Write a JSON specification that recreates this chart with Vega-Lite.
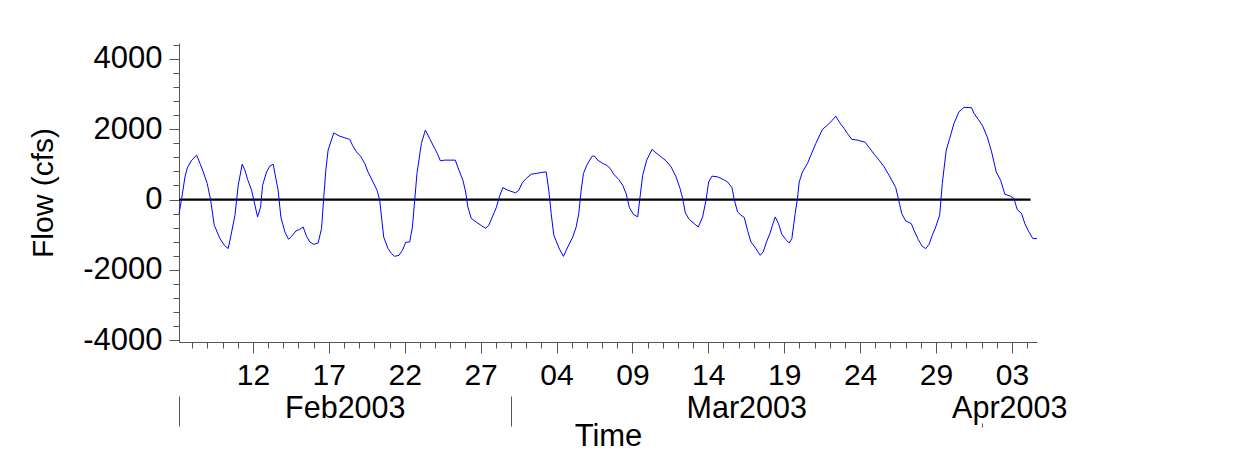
{
"$schema": "https://vega.github.io/schema/vega-lite/v6.json",
"width": 858, "height": 299,
"autosize": {"type": "none"},
"padding": {"left": 179, "top": 43, "right": 211, "bottom": 119},
"background": "white",
"config": {
  "view": {"stroke": null},
  "axis": {"grid": false, "labelFont": "Liberation Sans", "titleFont": "Liberation Sans", "labelFontSize": 30, "titleFontSize": 31, "titleFontWeight": "normal", "labelColor": "black", "titleColor": "black", "domainColor": "#555", "tickColor": "#555", "labelFlush": false, "labelOverlap": false}
},
"datasets": {
  "flow": [
{"t":"2003-02-07T03:10","v":-400},{"t":"2003-02-07T07:24","v":30},{"t":"2003-02-07T12:36","v":640},{"t":"2003-02-07T16:18","v":900},{"t":"2003-02-07T23:12","v":1120},
{"t":"2003-02-08T07:06","v":1260},{"t":"2003-02-08T12:18","v":1025},{"t":"2003-02-08T17:30","v":785},{"t":"2003-02-08T23:48","v":455},
{"t":"2003-02-09T05:12","v":-20},{"t":"2003-02-09T10:54","v":-730},{"t":"2003-02-09T19:54","v":-1110},
{"t":"2003-02-10T02:42","v":-1300},{"t":"2003-02-10T09:00","v":-1395},{"t":"2003-02-10T14:24","v":-920},{"t":"2003-02-10T19:36","v":-450},
{"t":"2003-02-11T00:48","v":405},{"t":"2003-02-11T07:06","v":1005},{"t":"2003-02-11T11:24","v":835},{"t":"2003-02-11T15:36","v":570},{"t":"2003-02-11T21:54","v":265},
{"t":"2003-02-12T03:12","v":-160},{"t":"2003-02-12T07:24","v":-495},{"t":"2003-02-12T12:12","v":-210},{"t":"2003-02-12T15:18","v":405},{"t":"2003-02-12T21:36","v":785},
{"t":"2003-02-13T02:48","v":950},{"t":"2003-02-13T08:06","v":1005},{"t":"2003-02-13T12:18","v":600},{"t":"2003-02-13T15:54","v":265},{"t":"2003-02-13T20:12","v":-495},
{"t":"2003-02-14T02:30","v":-920},{"t":"2003-02-14T08:24","v":-1130},{"t":"2003-02-14T13:06","v":-1045},{"t":"2003-02-14T19:54","v":-895},
{"t":"2003-02-15T02:12","v":-845},{"t":"2003-02-15T07:24","v":-780},{"t":"2003-02-15T12:48","v":-1045},{"t":"2003-02-15T18:00","v":-1205},
{"t":"2003-02-16T00:18","v":-1275},{"t":"2003-02-16T07:06","v":-1235},{"t":"2003-02-16T12:30","v":-825},{"t":"2003-02-16T16:06","v":75},{"t":"2003-02-16T19:18","v":835},{"t":"2003-02-16T22:54","v":1405},
{"t":"2003-02-17T07:54","v":1895},{"t":"2003-02-17T17:24","v":1800},
{"t":"2003-02-18T01:18","v":1755},{"t":"2003-02-18T09:12","v":1710},{"t":"2003-02-18T13:24","v":1545},{"t":"2003-02-18T19:42","v":1355},
{"t":"2003-02-19T02:00","v":1235},{"t":"2003-02-19T08:48","v":1025},{"t":"2003-02-19T14:00","v":786},{"t":"2003-02-19T21:54","v":500},
{"t":"2003-02-20T04:18","v":265},{"t":"2003-02-20T08:30","v":-20},{"t":"2003-02-20T14:48","v":-1065},{"t":"2003-02-20T21:36","v":-1395},
{"t":"2003-02-21T03:00","v":-1535},{"t":"2003-02-21T08:12","v":-1615},{"t":"2003-02-21T15:00","v":-1585},{"t":"2003-02-21T20:24","v":-1445},
{"t":"2003-02-22T01:36","v":-1215},{"t":"2003-02-22T07:54","v":-1205},{"t":"2003-02-22T12:12","v":-780},{"t":"2003-02-22T15:48","v":-20},{"t":"2003-02-22T19:24","v":740},
{"t":"2003-02-23T02:24","v":1595},{"t":"2003-02-23T08:42","v":1975},{"t":"2003-02-23T15:30","v":1735},{"t":"2003-02-23T23:24","v":1450},
{"t":"2003-02-24T03:36","v":1310},{"t":"2003-02-24T08:24","v":1100},{"t":"2003-02-24T15:12","v":1120},
{"t":"2003-02-25T08:00","v":1120},{"t":"2003-02-25T13:42","v":835},{"t":"2003-02-25T20:00","v":550},
{"t":"2003-02-26T00:18","v":215},{"t":"2003-02-26T03:54","v":-210},{"t":"2003-02-26T09:18","v":-540},{"t":"2003-02-26T17:12","v":-640},
{"t":"2003-02-27T01:06","v":-740},{"t":"2003-02-27T07:54","v":-815},{"t":"2003-02-27T13:06","v":-730},{"t":"2003-02-27T18:30","v":-495},
{"t":"2003-02-28T00:48","v":-230},{"t":"2003-02-28T06:00","v":95},{"t":"2003-02-28T11:12","v":340},{"t":"2003-02-28T19:06","v":265},
{"t":"2003-03-01T07:18","v":190},{"t":"2003-03-01T12:30","v":265},{"t":"2003-03-01T17:48","v":475},
{"t":"2003-03-02T00:06","v":600},{"t":"2003-03-02T08:00","v":720},{"t":"2003-03-02T15:54","v":740},{"t":"2003-03-02T23:48","v":770},
{"t":"2003-03-03T07:42","v":785},{"t":"2003-03-03T11:48","v":265},{"t":"2003-03-03T15:36","v":-400},{"t":"2003-03-03T19:42","v":-1015},
{"t":"2003-03-04T04:42","v":-1410},{"t":"2003-03-04T11:00","v":-1615},{"t":"2003-03-04T17:48","v":-1350},
{"t":"2003-03-05T01:42","v":-1065},{"t":"2003-03-05T07:06","v":-780},{"t":"2003-03-05T11:12","v":-400},{"t":"2003-03-05T15:00","v":265},{"t":"2003-03-05T18:36","v":740},{"t":"2003-03-05T23:48","v":975},
{"t":"2003-03-06T08:24","v":1235},{"t":"2003-03-06T12:00","v":1235},{"t":"2003-03-06T17:12","v":1120},
{"t":"2003-03-07T01:06","v":1025},{"t":"2003-03-07T07:24","v":975},{"t":"2003-03-07T12:48","v":885},{"t":"2003-03-07T18:30","v":720},
{"t":"2003-03-08T02:24","v":570},{"t":"2003-03-08T08:42","v":405},{"t":"2003-03-08T14:00","v":170},{"t":"2003-03-08T19:18","v":-230},
{"t":"2003-03-09T01:36","v":-420},{"t":"2003-03-09T08:24","v":-495},{"t":"2003-03-09T12:06","v":75},{"t":"2003-03-09T16:12","v":690},{"t":"2003-03-09T22:36","v":1120},
{"t":"2003-03-10T07:06","v":1425},{"t":"2003-03-10T13:24","v":1325},{"t":"2003-03-10T21:18","v":1215},
{"t":"2003-03-11T05:12","v":1100},{"t":"2003-03-11T13:06","v":930},{"t":"2003-03-11T21:00","v":645},
{"t":"2003-03-12T03:18","v":315},{"t":"2003-03-12T07:24","v":30},{"t":"2003-03-12T11:42","v":-380},{"t":"2003-03-12T18:00","v":-570},
{"t":"2003-03-13T01:54","v":-685},{"t":"2003-03-13T08:12","v":-780},{"t":"2003-03-13T15:00","v":-495},{"t":"2003-03-13T20:24","v":-20},
{"t":"2003-03-14T00:30","v":500},{"t":"2003-03-14T05:48","v":665},{"t":"2003-03-14T14:42","v":645},{"t":"2003-03-14T23:42","v":570},
{"t":"2003-03-15T06:24","v":500},{"t":"2003-03-15T13:24","v":340},{"t":"2003-03-15T17:00","v":0},{"t":"2003-03-15T22:18","v":-355},
{"t":"2003-03-16T03:36","v":-445},{"t":"2003-03-16T08:48","v":-510},{"t":"2003-03-16T14:00","v":-875},{"t":"2003-03-16T19:24","v":-1205},
{"t":"2003-03-17T03:18","v":-1395},{"t":"2003-03-17T10:06","v":-1585},{"t":"2003-03-17T14:48","v":-1490},{"t":"2003-03-17T20:00","v":-1205},
{"t":"2003-03-18T01:24","v":-970},{"t":"2003-03-18T05:30","v":-730},{"t":"2003-03-18T09:48","v":-495},{"t":"2003-03-18T15:00","v":-685},{"t":"2003-03-18T20:18","v":-990},
{"t":"2003-03-19T02:42","v":-1140},{"t":"2003-03-19T07:54","v":-1235},{"t":"2003-03-19T12:06","v":-1110},{"t":"2003-03-19T17:18","v":-400},{"t":"2003-03-19T21:00","v":30},{"t":"2003-03-19T23:42","v":500},
{"t":"2003-03-20T04:54","v":785},{"t":"2003-03-20T12:48","v":1025},{"t":"2003-03-20T18:06","v":1260},
{"t":"2003-03-21T02:00","v":1595},{"t":"2003-03-21T12:30","v":1995},{"t":"2003-03-21T20:24","v":2115},
{"t":"2003-03-22T03:18","v":2240},{"t":"2003-03-22T09:36","v":2370},{"t":"2003-03-22T14:48","v":2210},{"t":"2003-03-22T22:42","v":2020},
{"t":"2003-03-23T03:54","v":1880},{"t":"2003-03-23T10:54","v":1710},{"t":"2003-03-23T19:42","v":1690},
{"t":"2003-03-24T07:54","v":1630},{"t":"2003-03-24T14:12","v":1480},{"t":"2003-03-24T22:06","v":1290},
{"t":"2003-03-25T06:00","v":1120},{"t":"2003-03-25T13:54","v":930},{"t":"2003-03-25T21:48","v":690},
{"t":"2003-03-26T08:18","v":340},{"t":"2003-03-26T12:24","v":30},{"t":"2003-03-26T17:48","v":-400},
{"t":"2003-03-27T00:06","v":-610},{"t":"2003-03-27T09:00","v":-685},{"t":"2003-03-27T13:12","v":-875},{"t":"2003-03-27T20:00","v":-1140},
{"t":"2003-03-28T02:18","v":-1330},{"t":"2003-03-28T07:42","v":-1395},{"t":"2003-03-28T12:54","v":-1275},{"t":"2003-03-28T18:06","v":-1015},{"t":"2003-03-28T23:30","v":-780},
{"t":"2003-03-29T05:48","v":-445},{"t":"2003-03-29T09:54","v":455},{"t":"2003-03-29T16:12","v":1405},{"t":"2003-03-29T21:36","v":1735},
{"t":"2003-03-30T04:24","v":2165},{"t":"2003-03-30T12:18","v":2495},{"t":"2003-03-30T20:12","v":2620},
{"t":"2003-03-31T08:18","v":2610},{"t":"2003-03-31T12:00","v":2450},{"t":"2003-03-31T18:48","v":2280},
{"t":"2003-04-01T01:06","v":2115},{"t":"2003-04-01T09:00","v":1780},{"t":"2003-04-01T15:54","v":1355},{"t":"2003-04-01T23:12","v":785},
{"t":"2003-04-02T06:06","v":550},{"t":"2003-04-02T12:54","v":150},{"t":"2003-04-02T21:54","v":95},
{"t":"2003-04-03T03:06","v":30},{"t":"2003-04-03T08:24","v":-285},{"t":"2003-04-03T15:18","v":-400},{"t":"2003-04-03T20:30","v":-685},
{"t":"2003-04-04T02:48","v":-920},{"t":"2003-04-04T09:06","v":-1110},{"t":"2003-04-04T15:40","v":-1110}
  ],
  "zero": [{"t":"2003-02-07T03:10","v":0},{"t":"2003-04-04T05:30","v":0}]
},
"layer": [
  {
    "data": {"name": "zero"},
    "mark": {"type": "line", "color": "black", "strokeWidth": 2.2},
    "encoding": {
      "x": {"field": "t", "type": "temporal",
        "scale": {"domain": [{"year":2003,"month":2,"date":7,"hours":3,"minutes":10},{"year":2003,"month":4,"date":4,"hours":15,"minutes":40}]},
        "axis": {"orient": "bottom", "labels": false, "domain": false, "tickSize": 6, "title": "Time", "titlePadding": 73,
          "values": [
            {"year":2003,"month":2,"date":8},{"year":2003,"month":2,"date":9},{"year":2003,"month":2,"date":10},{"year":2003,"month":2,"date":11},{"year":2003,"month":2,"date":12},{"year":2003,"month":2,"date":13},{"year":2003,"month":2,"date":14},{"year":2003,"month":2,"date":15},{"year":2003,"month":2,"date":16},{"year":2003,"month":2,"date":17},{"year":2003,"month":2,"date":18},{"year":2003,"month":2,"date":19},{"year":2003,"month":2,"date":20},{"year":2003,"month":2,"date":21},{"year":2003,"month":2,"date":22},{"year":2003,"month":2,"date":23},{"year":2003,"month":2,"date":24},{"year":2003,"month":2,"date":25},{"year":2003,"month":2,"date":26},{"year":2003,"month":2,"date":27},{"year":2003,"month":2,"date":28},
            {"year":2003,"month":3,"date":1},{"year":2003,"month":3,"date":2},{"year":2003,"month":3,"date":3},{"year":2003,"month":3,"date":4},{"year":2003,"month":3,"date":5},{"year":2003,"month":3,"date":6},{"year":2003,"month":3,"date":7},{"year":2003,"month":3,"date":8},{"year":2003,"month":3,"date":9},{"year":2003,"month":3,"date":10},{"year":2003,"month":3,"date":11},{"year":2003,"month":3,"date":12},{"year":2003,"month":3,"date":13},{"year":2003,"month":3,"date":14},{"year":2003,"month":3,"date":15},{"year":2003,"month":3,"date":16},{"year":2003,"month":3,"date":17},{"year":2003,"month":3,"date":18},{"year":2003,"month":3,"date":19},{"year":2003,"month":3,"date":20},{"year":2003,"month":3,"date":21},{"year":2003,"month":3,"date":22},{"year":2003,"month":3,"date":23},{"year":2003,"month":3,"date":24},{"year":2003,"month":3,"date":25},{"year":2003,"month":3,"date":26},{"year":2003,"month":3,"date":27},{"year":2003,"month":3,"date":28},{"year":2003,"month":3,"date":29},{"year":2003,"month":3,"date":30},{"year":2003,"month":3,"date":31},
            {"year":2003,"month":4,"date":1},{"year":2003,"month":4,"date":2},{"year":2003,"month":4,"date":3},{"year":2003,"month":4,"date":4}
          ]}},
      "y": {"field": "v", "type": "quantitative",
        "scale": {"domain": [-4050, 4450], "nice": false, "zero": false},
        "axis": {"orient": "left", "labels": false, "domain": false, "tickSize": 6, "title": null,
          "values": [-4000,-3600,-3200,-2800,-2400,-2000,-1600,-1200,-800,-400,0,400,800,1200,1600,2000,2400,2800,3200,3600,4000,4400]}}
    }
  },
  {
    "data": {"name": "flow"},
    "mark": {"type": "line", "color": "#0000ff", "strokeWidth": 1},
    "encoding": {
      "x": {"field": "t", "type": "temporal",
        "scale": {"domain": [{"year":2003,"month":2,"date":7,"hours":3,"minutes":10},{"year":2003,"month":4,"date":4,"hours":15,"minutes":40}]},
        "axis": {"orient": "bottom", "format": "%d", "tickSize": 11, "labelPadding": 7, "title": null, "domain": true,
          "values": [{"year":2003,"month":2,"date":12},{"year":2003,"month":2,"date":17},{"year":2003,"month":2,"date":22},{"year":2003,"month":2,"date":27},{"year":2003,"month":3,"date":4},{"year":2003,"month":3,"date":9},{"year":2003,"month":3,"date":14},{"year":2003,"month":3,"date":19},{"year":2003,"month":3,"date":24},{"year":2003,"month":3,"date":29},{"year":2003,"month":4,"date":3}]}},
      "y": {"field": "v", "type": "quantitative",
        "scale": {"domain": [-4050, 4450], "nice": false, "zero": false},
        "axis": {"orient": "left", "values": [-4000, -2000, 0, 2000, 4000], "labelExpr": "'' + datum.value", "labelFontSize": 31, "tickSize": 10, "labelPadding": 7, "title": "Flow (cfs)", "titleFontSize": 30, "titlePadding": 24, "domain": true}}
    }
  },
  {
    "data": {"name": "zero"},
    "mark": {"type": "point", "opacity": 0},
    "encoding": {
      "x": {"field": "t", "type": "temporal",
        "scale": {"domain": [{"year":2003,"month":2,"date":7,"hours":3,"minutes":10},{"year":2003,"month":4,"date":4,"hours":15,"minutes":40}]},
        "axis": {"orient": "bottom", "format": "%b%Y", "ticks": false, "domain": false, "labelPadding": 51, "labelFontSize": 30.5, "title": null,
          "values": [{"year":2003,"month":2,"date":18,"hours":1,"minutes":18},{"year":2003,"month":3,"date":16,"hours":12},{"year":2003,"month":4,"date":2,"hours":19,"minutes":48}]}}
    }
  },
  {
    "data": {"name": "zero"},
    "mark": {"type": "point", "opacity": 0},
    "encoding": {
      "x": {"field": "t", "type": "temporal",
        "scale": {"domain": [{"year":2003,"month":2,"date":7,"hours":3,"minutes":10},{"year":2003,"month":4,"date":4,"hours":15,"minutes":40}]},
        "axis": {"orient": "bottom", "labels": false, "domain": false, "offset": 54, "tickSize": 30, "title": null,
          "values": [{"year":2003,"month":2,"date":7,"hours":3,"minutes":10},{"year":2003,"month":3,"date":1}]}}
    }
  },
  {
    "data": {"name": "zero"},
    "mark": {"type": "point", "opacity": 0},
    "encoding": {
      "x": {"field": "t", "type": "temporal",
        "scale": {"domain": [{"year":2003,"month":2,"date":7,"hours":3,"minutes":10},{"year":2003,"month":4,"date":4,"hours":15,"minutes":40}]},
        "axis": {"orient": "bottom", "labels": false, "domain": false, "offset": 81, "tickSize": 4, "title": null,
          "values": [{"year":2003,"month":4,"date":1}]}}
    }
  }
],
"resolve": {"axis": {"x": "independent", "y": "independent"}}
}
